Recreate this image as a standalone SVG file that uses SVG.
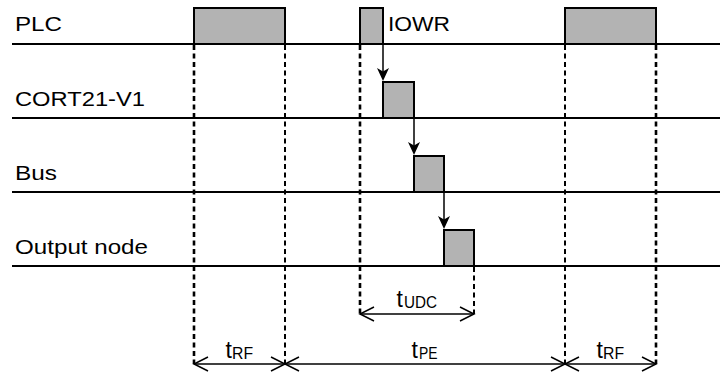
<svg xmlns="http://www.w3.org/2000/svg" width="720" height="374" viewBox="0 0 720 374">
<style>
.lbl{font-family:"Liberation Sans",Arial,sans-serif;font-size:21px;fill:#000}
.t{font-family:"Liberation Sans",Arial,sans-serif;font-size:23px;fill:#000}
.sub{font-size:16px}
.base{stroke:#000;stroke-width:2;fill:none}
.box{fill:#b3b3b3;stroke:#000;stroke-width:2}
.dash{stroke:#000;stroke-width:2;stroke-dasharray:5 3.5;fill:none}
.dashb{stroke:#000;stroke-width:2.6;stroke-dasharray:5 3.5;fill:none}
.dim{stroke:#000;stroke-width:1.5;fill:none}
.flow{stroke:#000;stroke-width:1.5;fill:none}
.head{fill:#000;stroke:none}
</style>
<rect width="720" height="374" fill="#fff"/>
<g id="rows">
<line class="base" x1="12" y1="44" x2="720" y2="44"/>
<line class="base" x1="12" y1="118" x2="720" y2="118"/>
<line class="base" x1="12" y1="192" x2="720" y2="192"/>
<line class="base" x1="12" y1="266" x2="720" y2="266"/>
</g>
<g id="label-plc"><text class="lbl" x="15" y="30.5" textLength="47" lengthAdjust="spacingAndGlyphs">PLC</text></g>
<g id="label-cort"><text class="lbl" x="15" y="106" textLength="130" lengthAdjust="spacingAndGlyphs">CORT21-V1</text></g>
<g id="label-bus"><text class="lbl" x="15" y="180" textLength="42" lengthAdjust="spacingAndGlyphs">Bus</text></g>
<g id="label-output"><text class="lbl" x="15" y="254" textLength="133" lengthAdjust="spacingAndGlyphs">Output node</text></g>
<g id="guides">
<line class="dashb" x1="194" y1="45" x2="194" y2="364"/>
<line class="dash" x1="285" y1="45" x2="285" y2="364"/>
<line class="dashb" x1="360" y1="45" x2="360" y2="314"/>
<line class="dash" x1="474" y1="267" x2="474" y2="314"/>
<line class="dash" x1="565" y1="45" x2="565" y2="364"/>
<line class="dashb" x1="656" y1="45" x2="656" y2="364"/>
</g>
<g id="plc-cycle-1"><rect class="box" x="194" y="8" width="91" height="36"/></g>
<g id="iowr"><rect class="box" x="360" y="8" width="23" height="36"/>
<text class="lbl" x="388" y="31" textLength="62" lengthAdjust="spacingAndGlyphs">IOWR</text></g>
<g id="plc-cycle-2"><rect class="box" x="565" y="8" width="91" height="36"/></g>
<g id="cort-box"><rect class="box" x="383" y="82" width="31" height="36"/></g>
<g id="bus-box"><rect class="box" x="414" y="156" width="30" height="36"/></g>
<g id="output-box"><rect class="box" x="444" y="230" width="30" height="36"/></g>
<g id="connectors">
<line class="flow" x1="383" y1="45" x2="383" y2="74"/>
<path class="head" d="M383,81 L377,68 L383,71.5 L389,68 Z"/>
<line class="flow" x1="414" y1="119" x2="414" y2="148"/>
<path class="head" d="M414,155 L408,142 L414,145.5 L420,142 Z"/>
<line class="flow" x1="444" y1="193" x2="444" y2="222"/>
<path class="head" d="M444,229 L438,216 L444,219.5 L450,216 Z"/>
</g>
<g id="dimensions">
<line class="dim" x1="360" y1="314" x2="474" y2="314"/>
<path class="dim" d="M374,307 L360,314 L374,321 M460,307 L474,314 L460,321"/>
<line class="dim" x1="194" y1="364" x2="656" y2="364"/>
<path class="dim" d="M208,357 L194,364 L208,371 M271,357 L285,364 L271,371 M299,357 L285,364 L299,371 M551,357 L565,364 L551,371 M579,357 L565,364 L579,371 M642,357 L656,364 L642,371"/>
<text class="t" x="396.5" y="307">t<tspan class="sub" x="404" y="308" textLength="33" lengthAdjust="spacingAndGlyphs">UDC</tspan></text>
<text class="t" x="225.5" y="358">t<tspan class="sub" x="232" y="359" textLength="21" lengthAdjust="spacingAndGlyphs">RF</tspan></text>
<text class="t" x="411.5" y="358">t<tspan class="sub" x="419" y="359" textLength="18.5" lengthAdjust="spacingAndGlyphs">PE</tspan></text>
<text class="t" x="596.5" y="358">t<tspan class="sub" x="603" y="359" textLength="21" lengthAdjust="spacingAndGlyphs">RF</tspan></text>
</g>
</svg>
